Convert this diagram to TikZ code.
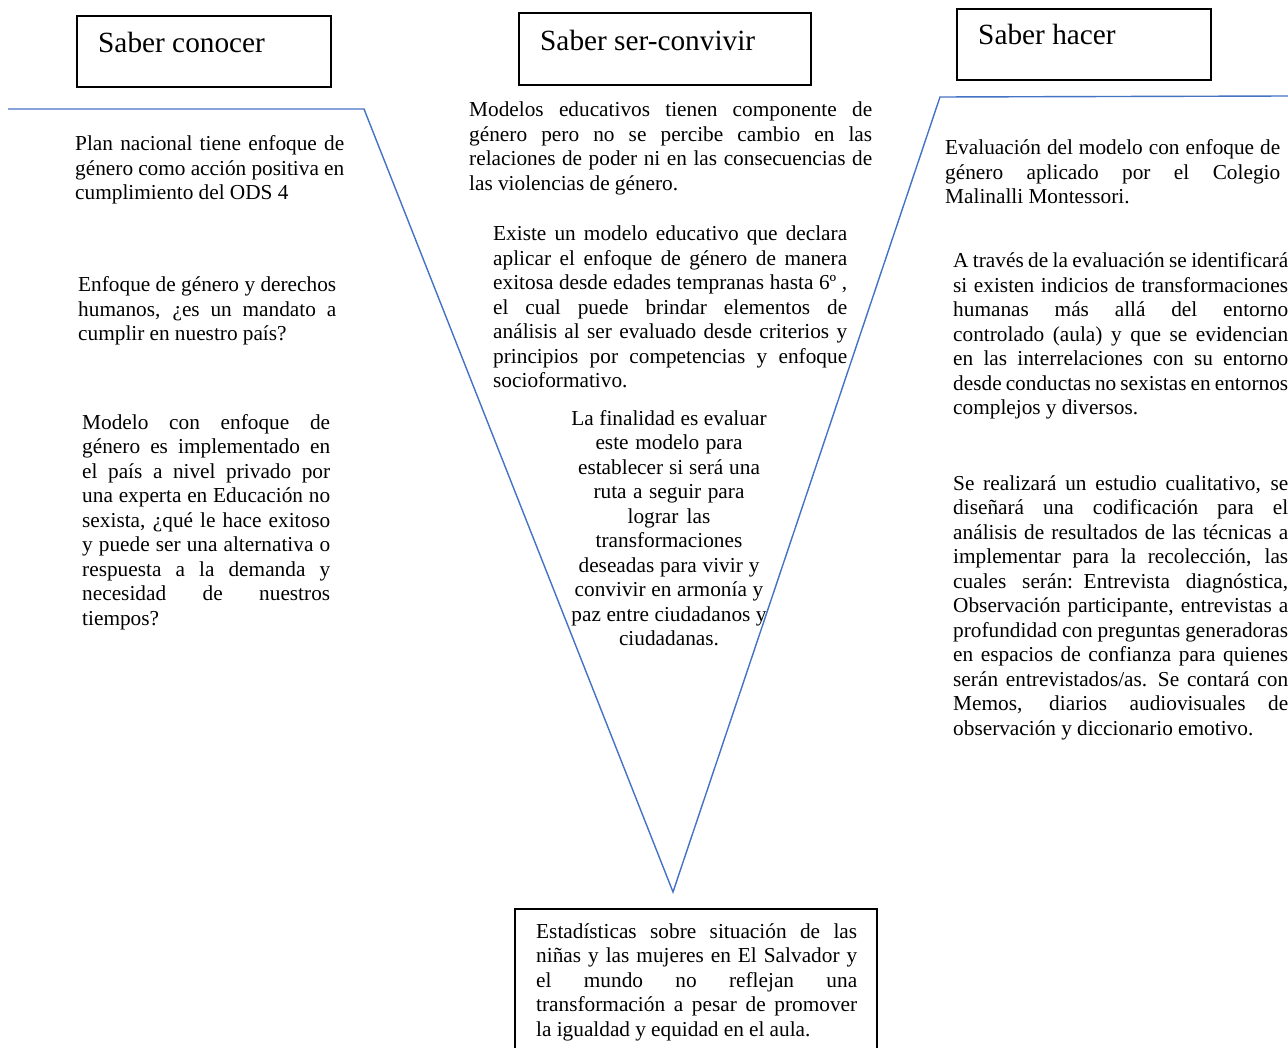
\documentclass[tikz,border=0pt]{standalone}
\usepackage{fontspec}
\setmainfont{Liberation Serif}
\definecolor{vblue}{HTML}{4472C4}
\newcommand{\jl}[1]{\leavevmode\hbox to \lw{\spaceskip=5.2pt plus 1fil minus 2pt\relax #1}\\}
\begin{document}
\begin{tikzpicture}[x=1pt,y=-1pt,
  kbox/.style={draw=black,line width=1.6pt},
  vline/.style={draw=vblue,line width=1.4pt,line join=miter},
  ttl/.style={font=\fontsize{29.3}{34}\selectfont,inner sep=0pt,anchor=base west},
  body/.style={font=\fontsize{21.3}{24.5}\selectfont,inner sep=0pt,anchor=base west,align=left,text width=#1,
    execute at begin node={\def\lw{#1}\spaceskip=5.2pt plus 2pt minus 1pt\relax}},
  cbody/.style={font=\fontsize{21.3}{24.5}\selectfont,inner sep=0pt,anchor=base,align=center,text width=#1,
    execute at begin node={\spaceskip=4.7pt plus 2pt minus 1pt\relax}}]
\useasboundingbox (0,0) rectangle (1288,1048);
\fill[white] (0,0) rectangle (1288,1048);

% title boxes
\draw[kbox] (77,16) rectangle (331,87);
\node[ttl] (t1) at (98,53) {Saber conocer};
\draw[kbox] (519,13) rectangle (811,85);
\node[ttl] (t2) at (540,51) {Saber ser-convivir};
\draw[kbox] (957,9) rectangle (1211,80);
\node[ttl] (t3) at (978,45) {Saber hacer};

% V shape
\coordinate (l0) at (8,109);
\coordinate (l1) at (364,109);
\coordinate (v) at (673,892);
\coordinate (r1) at (940,97);
\coordinate (r0) at (1290,96);
\draw[vline] (l0) -- (l1) -- (v) -- (r1) -- (r0);

% left column
\node[body=269pt] (p1) at (75,151) {\jl{Plan nacional tiene enfoque de}\jl{género como acción positiva en}cumplimiento del ODS 4};
\node[body=258pt] (p2) at (78,292) {\jl{Enfoque de género y derechos}\jl{humanos, ¿es un mandato a}cumplir en nuestro país?};
\node[body=248pt] (p3) at (82,429) {\jl{Modelo con enfoque de}\jl{género es implementado en}\jl{el país a nivel privado por}\jl{una experta en Educación no}\jl{sexista, ¿qué le hace exitoso}\jl{y puede ser una alternativa o}\jl{respuesta a la demanda y}\jl{necesidad de nuestros}tiempos?};

% middle column
\node[body=403pt] (p4) at (469,117) {\jl{Modelos educativos tienen componente de}\jl{género pero no se percibe cambio en las}\jl{relaciones de poder ni en las consecuencias de}las violencias de género.};
\node[body=354pt] (p5) at (493,241) {\jl{Existe un modelo educativo que declara}\jl{aplicar el enfoque de género de manera}\jl{exitosa desde edades tempranas hasta 6º ,}\jl{el cual puede brindar elementos de}\jl{análisis al ser evaluado desde criterios y}\jl{principios por competencias y enfoque}socioformativo.};
\node[cbody=230pt] (p6) at (669,425) {La finalidad es evaluar\\este modelo para\\establecer si será una\\ruta a seguir para\\lograr las\\transformaciones\\deseadas para vivir y\\convivir en armonía y\\paz entre ciudadanos y\\ciudadanas.};

% bottom box
\draw[kbox] (515,909) rectangle (877,1070);
\node[body=321pt] (p7) at (536,938) {\jl{Estadísticas sobre situación de las}\jl{niñas y las mujeres en El Salvador y}\jl{el mundo no reflejan una}\jl{transformación a pesar de promover}la igualdad y equidad en el aula.};

% right column
\node[body=335pt] (p8) at (945,155) {\jl{Evaluación del modelo con enfoque de}\jl{género aplicado por el Colegio}Malinalli Montessori.};
\node[body=335pt] (p9) at (953,268) {\jl{A través de la evaluación se identificará}\jl{si existen indicios de transformaciones}\jl{humanas más allá del entorno}\jl{controlado (aula) y que se evidencian}\jl{en las interrelaciones con su entorno}\jl{desde conductas no sexistas en entornos}complejos y diversos.};
\node[body=335pt] (p10) at (953,490) {\jl{Se realizará un estudio cualitativo, se}\jl{diseñará una codificación para el}\jl{análisis de resultados de las técnicas a}\jl{implementar para la recolección, las}\jl{cuales serán: Entrevista diagnóstica,}\jl{Observación participante, entrevistas a}\jl{profundidad con preguntas generadoras}\jl{en espacios de confianza para quienes}\jl{serán entrevistados/as. Se contará con}\jl{Memos, diarios audiovisuales de}observación y diccionario emotivo.};
\end{tikzpicture}
\end{document}
